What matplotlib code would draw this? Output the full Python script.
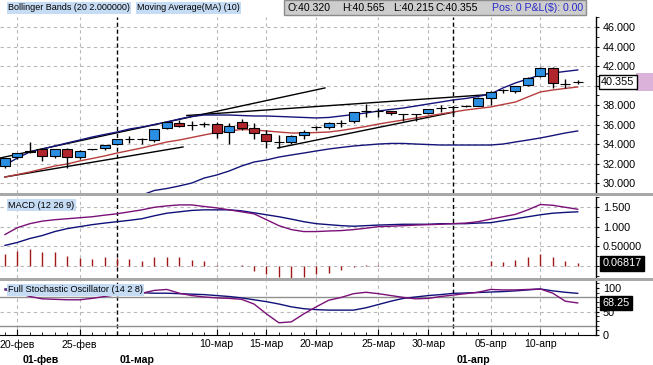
import matplotlib
matplotlib.use('Agg')
import matplotlib.pyplot as plt
import matplotlib.transforms as mtransforms
from matplotlib.patches import Rectangle
from matplotlib.ticker import MultipleLocator, FixedLocator, FixedFormatter
import numpy as np

plt.rcParams['font.family'] = ['Liberation Sans', 'DejaVu Sans']

# --- price data (one bar per day, index 0..46)
opens = [31.77, 32.73, 33.20, 33.47, 32.83, 33.47, 32.73, 33.47, 33.58, 33.99,
         34.53, 34.50, 34.43, 35.71, 36.21, 35.97, 36.08, 36.04, 35.22, 36.31,
         35.63, 35.05, 34.20, 34.20, 34.94, 35.73, 35.73, 36.21, 36.38, 37.43,
         37.43, 37.40, 37.06, 37.06, 37.17, 37.68, 37.78, 37.95, 37.95, 38.77,
         39.55, 39.45, 40.06, 41.02, 41.83, 40.14, 40.32]
highs = [32.60, 33.15, 34.26, 33.60, 33.55, 33.60, 33.40, 33.52, 33.95, 34.55,
         34.84, 34.60, 35.55, 36.30, 36.48, 36.40, 36.30, 36.30, 36.21, 36.58,
         36.20, 35.46, 34.94, 34.90, 35.46, 35.85, 36.25, 36.48, 37.30, 38.09,
         37.74, 37.45, 37.10, 37.10, 37.60, 38.00, 37.85, 38.00, 38.80, 39.45,
         39.70, 40.00, 40.85, 41.87, 41.87, 40.68, 40.565]
lows = [31.57, 32.46, 33.10, 32.28, 32.56, 31.60, 32.46, 33.44, 33.40, 33.95,
        34.16, 33.99, 34.26, 35.60, 35.80, 35.46, 35.80, 34.61, 33.99, 35.46,
        34.54, 33.58, 33.65, 34.00, 34.50, 35.45, 35.60, 35.80, 36.14, 36.82,
        36.82, 36.95, 36.41, 36.41, 37.10, 37.33, 36.95, 37.85, 37.90, 38.02,
        39.20, 39.21, 40.00, 40.90, 39.72, 39.79, 40.215]
closes = [32.56, 33.07, 33.32, 32.83, 33.47, 32.73, 33.34, 33.47, 33.92, 34.50,
          34.53, 34.56, 35.53, 36.25, 35.87, 35.97, 36.12, 35.18, 35.87, 35.69,
          35.12, 34.30, 34.20, 34.84, 35.28, 35.73, 36.14, 36.21, 37.27, 37.43,
          37.43, 37.17, 37.06, 37.06, 37.58, 37.68, 37.78, 37.95, 38.77, 39.38,
          39.55, 39.96, 40.81, 41.83, 40.24, 40.14, 40.355]

ma10 = [30.65, 30.90, 31.16, 31.47, 31.77, 31.98, 32.29, 32.54, 32.80, 33.10,
        33.36, 33.62, 33.92, 34.23, 34.43, 34.69, 34.95, 35.20, 35.36, 35.51,
        35.46, 35.36, 35.25, 35.15, 35.15, 35.20, 35.25, 35.41, 35.61, 35.82,
        36.07, 36.28, 36.48, 36.69, 36.89, 37.10, 37.30, 37.50, 37.66, 37.81,
        38.07, 38.32, 38.84, 39.35, 39.55, 39.71, 39.86]
bb_upper = [31.88, 32.59, 33.21, 33.51, 33.82, 34.13, 34.43, 34.74, 35.00, 35.25,
            35.56, 35.76, 36.02, 36.28, 36.58, 36.84, 36.99, 36.99, 36.99, 36.94,
            36.89, 36.89, 36.84, 36.79, 36.74, 36.69, 36.74, 36.89, 37.04, 37.20,
            37.40, 37.56, 37.71, 37.91, 38.12, 38.32, 38.53, 38.68, 38.89, 39.14,
            39.76, 40.27, 40.68, 41.09, 41.29, 41.45, 41.60]
bb_lower = [np.nan] * 11 + [
    28.80, 29.27, 29.47, 29.73, 30.03, 30.54, 30.85, 31.26, 31.77, 32.18,
    32.39, 32.69, 32.90, 33.10, 33.31, 33.51, 33.67, 33.82, 33.92, 34.02,
    34.08, 34.08, 34.02, 33.97, 33.92, 33.92, 33.92, 33.92, 33.92, 34.02,
    34.23, 34.43, 34.64, 34.89, 35.15, 35.36]

# hand-drawn trend lines: (bar start, bar end), (price start, price end)
trend_lines = [((-0.4, 25.7), (32.59, 39.76)),
               ((14.6, 38.96), (36.94, 39.09)),
               ((0.0, 14.3), (30.65, 33.72)),
               ((21.9, 36.1), (33.62, 37.30))]

macd = [0.80, 0.975, 1.075, 1.14, 1.175, 1.20, 1.225, 1.25, 1.29, 1.325,
        1.375, 1.425, 1.49, 1.525, 1.55, 1.55, 1.51, 1.475, 1.425, 1.375,
        1.325, 1.175, 1.025, 0.925, 0.875, 0.875, 0.89, 0.90, 0.925, 0.96,
        1.00, 1.01, 1.025, 1.04, 1.05, 1.06, 1.075, 1.09, 1.125, 1.19,
        1.25, 1.31, 1.425, 1.56, 1.54, 1.49, 1.44]
macd_signal = [0.525, 0.60, 0.70, 0.775, 0.875, 0.95, 1.00, 1.05, 1.09, 1.125,
               1.16, 1.20, 1.275, 1.34, 1.375, 1.41, 1.425, 1.425, 1.425, 1.40,
               1.35, 1.30, 1.25, 1.19, 1.125, 1.075, 1.05, 1.025, 1.01, 1.025,
               1.04, 1.05, 1.06, 1.06, 1.06, 1.075, 1.075, 1.075, 1.09, 1.10,
               1.15, 1.20, 1.25, 1.30, 1.34, 1.36, 1.375]
macd_hist = [0.30, 0.39, 0.44, 0.35, 0.35, 0.26, 0.20, 0.19, 0.22, 0.20,
             0.19, 0.13, 0.22, 0.22, 0.22, 0.15, 0.13, 0.02, 0.00, 0.03,
             -0.12, -0.20, -0.28, -0.30, -0.28, -0.20, -0.17, -0.10, -0.02, 0.03,
             0.03, 0.01, 0.0, 0.0, 0.0, 0.0, 0.0, 0.01, 0.01, 0.13,
             0.10, 0.16, 0.22, 0.30, 0.22, 0.13, 0.06817]

stoch_k = [96, 90, 82, 77, 76, 75, 75, 78, 82, 86,
           88, 89, 95, 97, 89, 84, 81, 79, 78, 76,
           66, 45, 26, 28, 45, 60, 74, 80, 88, 91,
           88, 84, 80, 77, 78, 82, 85, 88, 91, 97,
           96, 96, 97, 98, 89, 72, 68.25]
stoch_d = [98, 97, 96, 95, 94, 94, 93, 93, 92, 92,
           91, 90, 89, 89, 88, 87, 86, 84, 82, 79,
           75, 71, 66, 60, 56, 54, 53, 53, 53, 58,
           65, 72, 78, 81, 84, 86, 88.7, 89.5, 90.5, 91.5,
           92.5, 94, 96, 98, 94, 91, 88.7]

date_pos = [1, 6, 17, 21, 25, 30, 34, 39, 43]
date_labels = ['20-фев', '25-фев', '10-мар', '15-мар', '20-мар', '25-мар',
               '30-мар', '05-апр', '10-апр']
month_lines = [9, 36]
month_label_pos = [1.4, 9.2, 36.3]
month_labels = ['01-фев', '01-мар', '01-апр']

price_ticks = [30, 32, 34, 36, 38, 40, 42, 44, 46]
price_tick_labels = ['30.000', '32.000', '34.000', '36.000', '38.000', '',
                     '42.000', '44.000', '46.000']

x = np.arange(len(closes))

W, H = 653, 365
fig = plt.figure(figsize=(W / 100, H / 100), dpi=100)
fig.patch.set_facecolor('white')


def fbox(x0, y0, x1, y1):
    return [x0 / W, 1 - y1 / H, (x1 - x0) / W, (y1 - y0) / H]


ax = fig.add_axes(fbox(0, 17, 596, 193))
ax_m = fig.add_axes(fbox(0, 197, 596, 278), sharex=ax)
ax_s = fig.add_axes(fbox(0, 281, 596, 335), sharex=ax)

grid_ls = (0, (3, 3))
for a in (ax, ax_m, ax_s):
    for s in ('left', 'top', 'bottom'):
        a.spines[s].set_visible(False)
    a.spines['right'].set_linewidth(1)
    a.yaxis.tick_right()
    a.tick_params(axis='y', which='both', direction='out', length=2.5,
                  pad=2.5, labelsize=7.8, colors='black')
    a.tick_params(axis='y', which='minor', length=1.8)
    a.grid(axis='x', color='#b8b8b8', linestyle=grid_ls, lw=0.8)
    for m in month_lines:
        a.axvline(m, color='black', linestyle=(0, (3, 2)), lw=1, zorder=1)
    a.set_axisbelow(True)

ax.set_xlim(-0.4, 47.47)
ax_s.set_xticks(date_pos, date_labels)
ax_s.set_xticks(x, minor=True)
ax.tick_params(axis='x', which='both', length=0, labelbottom=False)
ax_m.tick_params(axis='x', which='both', length=0, labelbottom=False)
ax_s.spines['bottom'].set_visible(True)
ax_s.tick_params(axis='x', which='major', direction='in', length=4,
                 pad=3, labelsize=7.6)
ax_s.tick_params(axis='x', which='minor', direction='in', length=2)

# --- main price panel
ax.set_ylim(29.01, 47.02)
ax.yaxis.set_major_locator(FixedLocator(price_ticks))
ax.yaxis.set_major_formatter(FixedFormatter(price_tick_labels))
ax.yaxis.set_minor_locator(MultipleLocator(1))
ax.grid(axis='y', color='#b8b8b8', linestyle=grid_ls, lw=0.8)

for (xs, ys) in trend_lines:
    ax.plot(xs, ys, color='black', lw=1, zorder=2)
ax.plot(x, bb_upper, color='#14147a', lw=1, zorder=2)
ax.plot(x, bb_lower, color='#14147a', lw=1, zorder=2)
ax.plot(x, ma10, color='#b83c3c', lw=1, zorder=2)

o = np.array(opens)
c = np.array(closes)
body_col = np.where(c > o, '#2a8ee2', '#b0262c')
ax.vlines(x, lows, highs, color='black', lw=1, zorder=3)
ax.bar(x, c - o, bottom=o, width=0.8, color=body_col, edgecolor='black',
       lw=0.8, zorder=4)

blend = mtransforms.blended_transform_factory(ax.transAxes, ax.transData)
ax.add_patch(Rectangle((636 / 596, closes[-1] - 0.92), 17 / 596, 1.84,
                       transform=blend, facecolor='#dab2da', edgecolor='none',
                       clip_on=False))
ax.text(1.0085, closes[-1], f'{closes[-1]:.3f}', transform=blend, ha='left',
        va='center', fontsize=7.8, zorder=6,
        bbox=dict(facecolor='white', edgecolor='black', pad=1.6, lw=1))

# --- MACD panel
ax_m.set_ylim(-0.3, 1.75)
ax_m.yaxis.set_major_locator(FixedLocator([0, 0.5, 1.0, 1.5]))
ax_m.yaxis.set_major_formatter(FixedFormatter(['', '0.50000', '1.000', '1.500']))
ax_m.yaxis.set_minor_locator(MultipleLocator(0.25))
ax_m.grid(axis='y', color='#b8b8b8', linestyle=grid_ls, lw=0.8)
ax_m.vlines(x, 0, macd_hist, color='#a01818', lw=1, zorder=2)
ax_m.plot(x, macd_signal, color='#10107a', lw=1, zorder=3)
ax_m.plot(x, macd, color='#7a1078', lw=1, zorder=3)
blend_m = mtransforms.blended_transform_factory(ax_m.transAxes, ax_m.transData)
ax_m.text(1.011, macd_hist[-1], f'{macd_hist[-1]:.5f}', transform=blend_m,
          ha='left', va='center', fontsize=7.8, color='white', zorder=6,
          bbox=dict(facecolor='black', edgecolor='black', pad=1.6))

# --- stochastic panel
ax_s.set_ylim(0, 115)
ax_s.set_yticks([0, 50, 100])
ax_s.yaxis.set_minor_locator(MultipleLocator(10))
ax_s.axhline(50, color='#b8b8b8', linestyle=grid_ls, lw=0.8, zorder=1)
for lvl in (80, 20):
    ax_s.axhline(lvl, color='#909090', lw=1, zorder=1)
ax_s.plot(x, stoch_d, color='#10107a', lw=1, zorder=3)
ax_s.plot(x, stoch_k, color='#7a1078', lw=1, zorder=3)
blend_s = mtransforms.blended_transform_factory(ax_s.transAxes, ax_s.transData)
ax_s.text(1.011, stoch_k[-1], f'{stoch_k[-1]:.2f}', transform=blend_s,
          ha='left', va='center', fontsize=7.8, color='white', zorder=6,
          bbox=dict(facecolor='black', edgecolor='black', pad=1.6))

blend_x = mtransforms.blended_transform_factory(ax_s.transData, ax_s.transAxes)
for pos, lab in zip(month_label_pos, month_labels):
    ax_s.text(pos, -0.46, lab, transform=blend_x, ha='left', va='center',
              fontsize=7.6, fontweight='bold')

# --- separators between panels
for y0 in (193, 278):
    fig.add_artist(Rectangle((0, 1 - (y0 + 3) / H), 1, 3 / H,
                             transform=fig.transFigure, facecolor='#a8a8a8',
                             edgecolor='none'))

# --- header and panel labels
lab_bg = dict(facecolor='#c6dcf4', edgecolor='none', pad=1.0)
fig.text(8 / W, 1 - 8 / H, 'Bollinger Bands (20 2.000000)', fontsize=6.5,
         va='center', bbox=lab_bg)
fig.text(137 / W, 1 - 8 / H, 'Moving Average(MA) (10)', fontsize=6.5,
         va='center', bbox=lab_bg)
fig.text(8 / W, 1 - 205 / H, 'MACD (12 26 9)', fontsize=6.6, va='center',
         bbox=lab_bg)
fig.text(8 / W, 1 - 290 / H, 'Full Stochastic Oscillator (14 2 8)',
         fontsize=6.6, va='center', bbox=lab_bg)

fig.add_artist(Rectangle((284 / W, 1 - 15 / H), (586 - 284) / W, 15 / H,
                         transform=fig.transFigure, facecolor='#cdcdcd',
                         edgecolor='#8c8c8c', lw=1))
ohlc_text = [('O', opens[-1], 288), ('H', highs[-1], 342),
             ('L', lows[-1], 393), ('C', closes[-1], 435)]
for key, val, px in ohlc_text:
    fig.text(px / W, 1 - 8 / H, f'{key}:{val:.3f}', fontsize=7.6, va='center')
fig.text(492 / W, 1 - 8 / H, 'Pos: 0 P&L($): 0.00', fontsize=7.6,
         va='center', color='#2a2ac8')

fig.savefig('out.png', dpi=100)
